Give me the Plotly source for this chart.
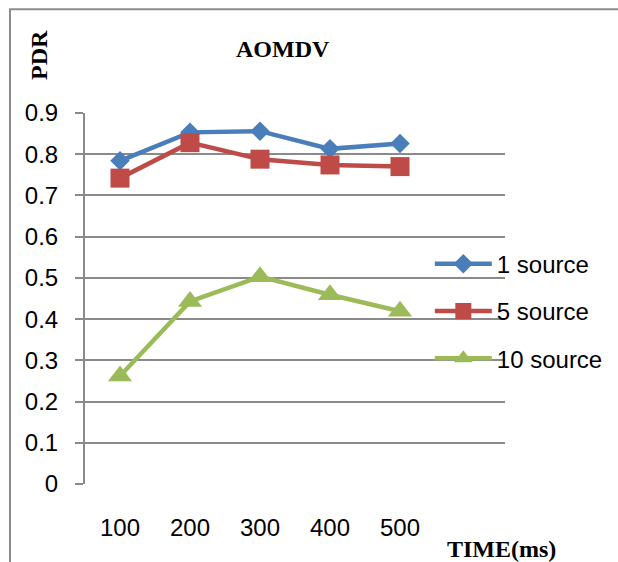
import plotly.graph_objects as go

time_ms = [100, 200, 300, 400, 500]
tick_labels = ["100", "200", "300", "400", "500"]
src1 = [0.784, 0.853, 0.856, 0.813, 0.826]
src5 = [0.742, 0.828, 0.788, 0.774, 0.770]
src10 = [0.262, 0.443, 0.503, 0.459, 0.419]
y_ticks = [0, 0.1, 0.2, 0.3, 0.4, 0.5, 0.6, 0.7, 0.8, 0.9]
y_tick_labels = ["0", "0.1", "0.2", "0.3", "0.4", "0.5", "0.6", "0.7", "0.8", "0.9"]

series = [
    ("1 source", src1, "#4a7ebb", "diamond", 15),
    ("5 source", src5, "#be4b48", "square", 19),
    ("10 source", src10, "#9bbb59", "triangle-up", 21),
]

fig = go.Figure()
for name, vals, col, sym, sz in series:
    fig.add_trace(go.Scatter(
        x=time_ms, y=vals, name=name, mode="lines+markers",
        legendgroup=name,
        line=dict(color=col, width=4.5),
        marker=dict(symbol=sym, size=sz, color=col, line=dict(width=0)),
    ))

TXT = "Liberation Sans, Arial, sans-serif"
SERIF = "Liberation Serif, Times New Roman, serif"
GRID = "#8a8a8a"

fig.update_layout(
    width=618, height=562,
    margin=dict(l=85, r=113, t=113, b=78, autoexpand=False),
    paper_bgcolor="white", plot_bgcolor="white",
    font=dict(family=TXT, size=24, color="black"),
    showlegend=True,
    legend=dict(x=0.821, y=0.653, xanchor="left", yanchor="top",
                bgcolor="rgba(0,0,0,0)", tracegroupgap=13, itemwidth=57,
                font=dict(family=TXT, size=24, color="black")),
    xaxis=dict(range=[50, 650], tickvals=time_ms, ticktext=tick_labels,
               showgrid=False, zeroline=False, showline=False, ticks="",
               ticklabelstandoff=27, tickfont=dict(family=TXT, size=24)),
    yaxis=dict(range=[0, 0.9], tickvals=y_ticks, ticktext=y_tick_labels,
               showgrid=True, gridcolor=GRID, gridwidth=2, zeroline=False,
               showline=True, linecolor=GRID, linewidth=2,
               ticks="outside", ticklen=8, tickcolor=GRID, tickwidth=2,
               ticklabelstandoff=12, tickfont=dict(family=TXT, size=24)),
    shapes=[
        dict(type="rect", xref="paper", yref="paper",
             x0=-0.1786, x1=1.3, y0=-0.25, y1=1.2795,
             line=dict(color="#8c8c8c", width=2), fillcolor="rgba(0,0,0,0)",
             layer="below"),
    ],
    annotations=[
        dict(text="<b>AOMDV</b>", xref="paper", yref="paper", x=0.4714, y=1.1725,
             showarrow=False, font=dict(family=SERIF, size=24, color="black"),
             xanchor="center", yanchor="middle"),
        dict(text="<b>PDR</b>", xref="paper", yref="paper", x=-0.1095, y=1.1563,
             showarrow=False, textangle=-90,
             font=dict(family=SERIF, size=24, color="black"),
             xanchor="center", yanchor="middle"),
        dict(text="<b>TIME(ms)</b>", xref="paper", yref="paper", x=0.9905, y=-0.1752,
             showarrow=False, font=dict(family=SERIF, size=24, color="black"),
             xanchor="center", yanchor="middle"),
    ],
)

fig.write_html("out.html")
